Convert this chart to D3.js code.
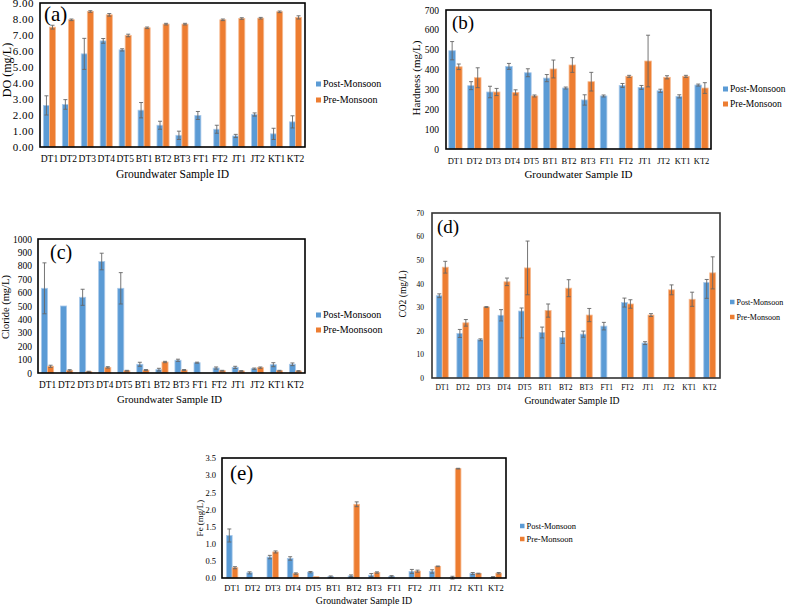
<!DOCTYPE html>
<html>
<head>
<meta charset="utf-8">
<script src="https://cdn.jsdelivr.net/npm/d3@7"></script>
<style>
  body { margin: 0; background: #fff; }
  text { font-family: "Liberation Serif", "Times New Roman", serif; fill: #000; }
</style>
</head>
<body>
<svg id="chart" width="787" height="606"></svg>
<script>
var categories = ['DT1', 'DT2', 'DT3', 'DT4', 'DT5', 'BT1', 'BT2', 'BT3', 'FT1', 'FT2', 'JT1', 'JT2', 'KT1', 'KT2'];
var seriesNames = ['Post-Monsoon', 'Pre-Monsoon'];

// (a) DO
var doTicks = [0, 1, 2, 3, 4, 5, 6, 7, 8, 9];
var doPost = [2.60, 2.66, 5.82, 6.63, 6.07, 2.30, 1.36, 0.73, 1.97, 1.11, 0.69, 2.03, 0.82, 1.57];
var doPostErr = [0.60, 0.30, 0.97, 0.15, 0.07, 0.48, 0.25, 0.26, 0.25, 0.25, 0.10, 0.10, 0.35, 0.38];
var doPre = [7.49, 7.95, 8.47, 8.26, 6.97, 7.45, 7.68, 7.68, null, 7.95, 8.03, 8.05, 8.45, 8.10];
var doPreErr = [0.12, 0.05, 0.05, 0.08, 0.08, 0.05, 0.05, 0.05, null, 0.05, 0.05, 0.05, 0.05, 0.10];

// (b) Hardness
var hardTicks = [0, 100, 200, 300, 400, 500, 600, 700];
var hardPost = [495, 319, 287, 416, 384, 357, 307, 247, 267, 320, 310, 293, 265, 322];
var hardPostErr = [46, 20, 29, 15, 20, 18, 5, 26, 5, 10, 10, 8, 8, 5];
var hardPre = [414, 359, 287, 285, 267, 403, 423, 339, null, 366, 443, 361, 366, 307];
var hardPreErr = [14, 50, 18, 13, 5, 45, 37, 47, null, 5, 130, 8, 5, 27];

// (c) Chloride
var clTicks = [0, 100, 200, 300, 400, 500, 600, 700, 800, 900, 1000];
var clPost = [632, 500, 565, 832, 632, 65, 25, 95, 77, 37, 42, 32, 62, 65];
var clPostErr = [190, 0, 60, 62, 117, 15, 10, 8, 4, 8, 8, 5, 15, 10];
var clPre = [50, 20, 10, 42, 17, 22, 82, 22, null, 17, 15, 40, 17, 15];
var clPreErr = [8, 5, 3, 5, 3, 4, 5, 4, null, 3, 3, 5, 3, 3];

// (d) CO2  (two error bars are lopsided: [minus, plus])
var co2Ticks = [0, 10, 20, 30, 40, 50, 60, 70];
var co2Post = [34.9, 18.9, 16.2, 26.6, 28.4, 19.3, 17.2, 18.6, 22.0, 32.0, 14.8, null, null, 40.5];
var co2PostErr = [0.8, 1.7, 0.4, 2.4, [11.4, 1.3], 2.3, 2.5, 1.3, 1.6, 1.9, 0.6, null, null, [6.7, 1.3]];
var co2Pre = [47.0, 23.4, 30.1, 40.8, 46.7, 28.6, 38.1, 26.7, null, 31.4, 26.7, 37.4, 33.4, 44.6];
var co2PreErr = [2.5, 1.4, 0.2, 1.6, 11.4, 2.8, 3.6, 2.8, null, 1.8, 0.6, 2.1, 3.0, 6.8];

// (e) Fe
var feTicks = [0, 0.5, 1.0, 1.5, 2.0, 2.5, 3.0, 3.5];
var fePost = [1.24, 0.15, 0.61, 0.57, 0.17, 0.04, 0.06, 0.08, 0.05, 0.19, 0.19, 0.01, 0.13, 0.02];
var fePostErr = [0.19, 0.03, 0.05, 0.05, 0.02, 0.02, 0.03, 0.05, 0.02, 0.06, 0.05, 0.04, 0.03, 0.02];
var fePre = [0.30, null, 0.76, 0.13, 0.04, null, 2.15, 0.16, null, 0.20, 0.34, 3.19, 0.13, 0.14];
var fePreErr = [0.03, null, 0.03, 0.02, 0, null, 0.07, 0.02, null, 0.03, 0.01, 0.01, 0.01, 0.02];

var colors = ['#5b9bd5', '#ed7d31'];
var halo = ['#a9c9ea', '#f6bb92'];

var svg = d3.select('#chart');
svg.append('rect').attr('width', 787).attr('height', 606).attr('fill', '#fff');

/**
 * One grouped bar panel with error bars, frame, legend and labels
 */
var drawPanel = function(p) {
  var g = svg.append('g');

  var x = d3.scaleBand().domain(categories).range([p.left, p.right]).paddingInner(p.pad).paddingOuter(p.pad / 2);
  var xs = d3.scaleBand().domain([0, 1]).range([0, x.bandwidth()]);
  var y = d3.scaleLinear().domain([0, p.ticks[p.ticks.length - 1]]).range([p.bottom, p.top]);

  // y tick labels
  var yAxis = d3.axisLeft(y).tickValues(p.ticks).tickFormat(d3.format(p.fmt)).tickSize(0).tickPadding(p.tickPad);
  var ya = g.append('g').attr('transform', 'translate(' + p.left + ',0)').call(yAxis);
  ya.select('.domain').remove();
  ya.selectAll('text')
    .attr('font-size', p.tickFs)
    .attr('letter-spacing', p.tickLs || 0)
    .attr('fill', '#000');

  // x tick labels
  var xAxis = d3.axisBottom(x).tickSize(0).tickPadding(p.xPad);
  var xa = g.append('g').attr('transform', 'translate(0,' + p.bottom + ')').call(xAxis);
  xa.select('.domain').remove();
  xa.selectAll('text')
    .attr('font-size', p.xFs)
    .attr('fill', '#000');

  // bars
  p.series.forEach(function(vals, s) {
    var rows = categories.map(function(c, i) {
      return { cat: c, v: vals[i], e: p.errs[s][i] };
    }).filter(function(d) { return d.v !== null; });

    g.selectAll('.bar' + s).data(rows).enter().append('rect')
      .attr('x', function(d) { return x(d.cat) + xs(s); })
      .attr('y', function(d) { return y(d.v); })
      .attr('width', xs.bandwidth())
      .attr('height', function(d) { return y(0) - y(d.v); })
      .attr('fill', colors[s])
      .attr('stroke', halo[s])
      .attr('stroke-width', 0.8);

    var errRows = rows.filter(function(d) { return d.e; });
    var eg = g.selectAll('.err' + s).data(errRows).enter().append('g')
      .attr('stroke', '#666').attr('stroke-width', 0.9);
    var cx = function(d) { return x(d.cat) + xs(s) + xs.bandwidth() / 2; };
    var lo = function(d) { return y(d.v - (Array.isArray(d.e) ? d.e[0] : d.e)); };
    var hi = function(d) { return y(d.v + (Array.isArray(d.e) ? d.e[1] : d.e)); };
    eg.append('line').attr('x1', cx).attr('x2', cx).attr('y1', lo).attr('y2', hi);
    eg.append('line').attr('x1', function(d) { return cx(d) - 2; }).attr('x2', function(d) { return cx(d) + 2; })
      .attr('y1', lo).attr('y2', lo);
    eg.append('line').attr('x1', function(d) { return cx(d) - 2; }).attr('x2', function(d) { return cx(d) + 2; })
      .attr('y1', hi).attr('y2', hi);
  });

  // frame
  g.append('rect')
    .attr('x', p.left).attr('y', p.top)
    .attr('width', p.right - p.left).attr('height', p.bottom - p.top)
    .attr('fill', 'none').attr('stroke', p.frameColor || '#000').attr('stroke-width', 1.6);

  // panel letter
  g.append('text').attr('x', p.tagX).attr('y', p.tagY).attr('font-size', p.tagFs).text(p.tag);

  // axis titles
  g.append('text')
    .attr('x', (p.left + p.right) / 2 + (p.xTitleDx || 0)).attr('y', p.xTitleY)
    .attr('text-anchor', 'middle').attr('font-size', p.xTitleFs)
    .text('Groundwater Sample ID');
  g.append('text')
    .attr('transform', 'translate(' + p.yTitleX + ',' + p.yTitleY + ') rotate(-90)')
    .attr('text-anchor', 'middle').attr('font-size', p.yTitleFs)
    .text(p.yTitle);

  // legend
  p.legendNames.forEach(function(name, s) {
    var ly = p.legY[s];
    g.append('rect').attr('x', p.legX).attr('y', ly - p.legBox / 2)
      .attr('width', p.legBox).attr('height', p.legBox).attr('fill', colors[s]);
    g.append('text').attr('x', p.legX + p.legBox + 2).attr('y', ly + p.legFs * 0.33)
      .attr('font-size', p.legFs).text(name);
  });
};

drawPanel({
  tag: '(a)', tagX: 44, tagY: 21, tagFs: 21,
  left: 40, right: 305, top: 3, bottom: 147, pad: 0.36,
  ticks: doTicks, fmt: '.2f', tickFs: 11, tickLs: 0.5, tickPad: 6,
  xFs: 9.5, xPad: 8.5, xTitleY: 178, xTitleFs: 11.5,
  yTitle: 'DO (mg/L)', yTitleX: 11, yTitleY: 70, yTitleFs: 12,
  series: [doPost, doPre], errs: [doPostErr, doPreErr],
  legendNames: seriesNames, legX: 316, legY: [84, 100], legBox: 5, legFs: 10
});

drawPanel({
  tag: '(b)', tagX: 452, tagY: 29, tagFs: 19,
  left: 446, right: 711, top: 10, bottom: 149, pad: 0.3,
  ticks: hardTicks, fmt: 'd', tickFs: 9.5, tickPad: 7,
  xFs: 8.5, xPad: 9, xTitleY: 178, xTitleFs: 11,
  yTitle: 'Hardness (mg/L)', yTitleX: 420, yTitleY: 78, yTitleFs: 11,
  series: [hardPost, hardPre], errs: [hardPostErr, hardPreErr],
  legendNames: seriesNames, legX: 723, legY: [89, 104], legBox: 5, legFs: 9.5
});

drawPanel({
  tag: '(c)', tagX: 50, tagY: 259, tagFs: 20,
  left: 38, right: 305, top: 239, bottom: 373, pad: 0.36,
  ticks: clTicks, fmt: 'd', tickFs: 9.5, tickPad: 6,
  xFs: 9.3, xPad: 8.7, xTitleY: 403, xTitleFs: 10.7, xTitleDx: -2,
  yTitle: 'Cloride (mg/L)', yTitleX: 9, yTitleY: 307, yTitleFs: 10.5,
  series: [clPost, clPre], errs: [clPostErr, clPreErr],
  legendNames: ['Post-Monsoon', 'Pre-Moonsoon'], legX: 316, legY: [315, 330], legBox: 5, legFs: 10
});

drawPanel({
  tag: '(d)', tagX: 437, tagY: 233, tagFs: 19,
  left: 432, right: 720, top: 213, bottom: 378, pad: 0.42, frameColor: '#333',
  ticks: co2Ticks, fmt: 'd', tickFs: 7.5, tickPad: 8,
  xFs: 7.5, xPad: 6.4, xTitleY: 404, xTitleFs: 9.7, xTitleDx: -4,
  yTitle: 'CO2 (mg/L)', yTitleX: 406, yTitleY: 294, yTitleFs: 9.5,
  series: [co2Post, co2Pre], errs: [co2PostErr, co2PreErr],
  legendNames: seriesNames, legX: 730, legY: [302, 317], legBox: 4.5, legFs: 8
});

drawPanel({
  tag: '(e)', tagX: 230, tagY: 480, tagFs: 21,
  left: 222, right: 506, top: 458, bottom: 578, pad: 0.44,
  ticks: feTicks, fmt: '.1f', tickFs: 8.5, tickPad: 6,
  xFs: 8.5, xPad: 7, xTitleY: 604, xTitleFs: 9.8,
  yTitle: 'Fe (mg/L)', yTitleX: 203, yTitleY: 518, yTitleFs: 9,
  series: [fePost, fePre], errs: [fePostErr, fePreErr],
  legendNames: seriesNames, legX: 520, legY: [526, 539], legBox: 4.5, legFs: 8.5
});
</script>
</body>
</html>
